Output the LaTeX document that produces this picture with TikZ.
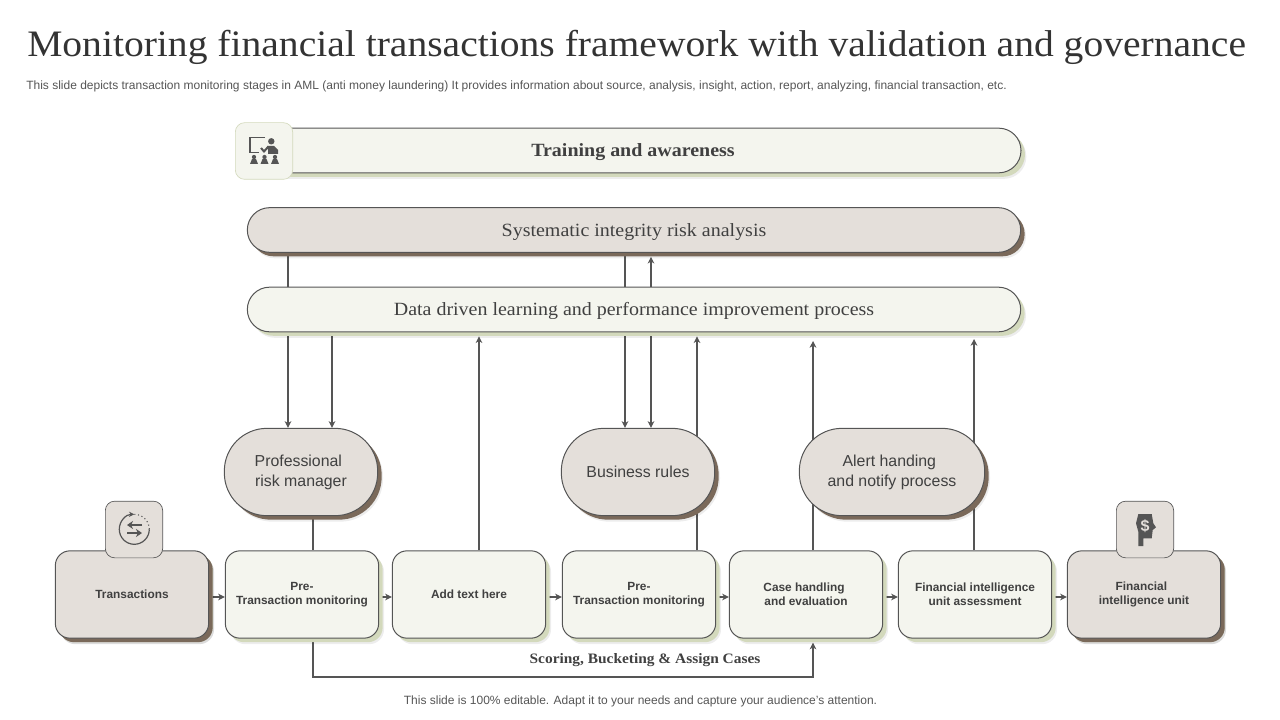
\documentclass[tikz,border=0pt]{standalone}
\usepackage{fontspec}
\setmainfont{Liberation Sans}
\newfontfamily\serifface[FakeStretch=1.07]{Liberation Serif}
\newfontfamily\titleface[FakeStretch=1.06]{Liberation Serif}
\usetikzlibrary{arrows.meta,backgrounds,calc,positioning,shadows}
\definecolor{boxgray}{HTML}{E4DFDA}
\definecolor{boxcream}{HTML}{F4F5EE}
\definecolor{shadebrown}{HTML}{7A695A}
\definecolor{shadegreen}{HTML}{D3D9BC}
\definecolor{linegray}{HTML}{555555}
\definecolor{textgray}{HTML}{404040}
\definecolor{titlegray}{HTML}{333333}
\newcommand{\fsize}[1]{\fontsize{#1}{1.2\dimexpr #1pt\relax}\selectfont}
\tikzset{
  softshade/.style={general shadow={shadow xshift=4pt,shadow yshift=-4.5pt,fill=black,opacity=.07}},
  brownshade/.style={softshade,general shadow={shadow xshift=3pt,shadow yshift=-3pt,fill=shadebrown,opacity=1}},
  greenshade/.style={softshade,general shadow={shadow xshift=3pt,shadow yshift=-3pt,fill=shadegreen,opacity=1}},
  basebox/.style={draw=linegray,line width=.75pt,inner sep=0pt,align=center,text=textgray},
  barbox/.style={basebox,minimum height=33.5pt,rounded corners=16.7pt,text height=10.5pt,text depth=1pt,font=\serifface\fsize{14}},
  blobbox/.style={basebox,brownshade,fill=boxgray,minimum width=115pt,minimum height=65.5pt,rounded corners=32pt,font=\fontsize{11.9}{15}\selectfont},
  stagebox/.style={basebox,greenshade,fill=boxcream,minimum width=115pt,minimum height=65.5pt,rounded corners=11pt,font=\bfseries\fontsize{8.9}{10.5}\selectfont},
  endbox/.style={stagebox,brownshade,fill=boxgray},
  iconbox/.style={draw=linegray,line width=.5pt,minimum width=43pt,minimum height=42.5pt,inner sep=0pt,rounded corners=7pt},
  link/.style={draw=linegray,line width=1pt},
  linkarrow/.style={link,-{Stealth[length=5pt,width=5pt,inset=1.5pt]}},
  icon/.style={fill=linegray,draw=none}
}
\begin{document}
\begin{tikzpicture}[x=0.75pt,y=-0.75pt]
    \useasboundingbox (0,0) rectangle (1280,720);

    % heading
    \node[anchor=west,inner sep=0pt,text=titlegray,font=\titleface\fsize{28}] (title) at (27,47.5) {Monitoring financial transactions framework with validation and governance};
    \node[anchor=west,inner sep=0pt,text=linegray,font=\fsize{9}] (subtitle) at (26,86) {This slide depicts transaction monitoring stages in AML (anti money laundering) It provides information about source, analysis, insight, action, report, analyzing, financial transaction, etc.};

    % long bars
    \node[barbox,greenshade,fill=boxcream,minimum width=582pt] (train) at (633,150.5) {\bfseries Training and awareness};
    \node[barbox,brownshade,fill=boxgray,minimum width=580pt] (risk) at (634,230) {Systematic integrity risk analysis};
    \node[barbox,greenshade,fill=boxcream,minimum width=580pt] (learn) at (634,309.5) {Data driven learning and performance improvement process};

    % rounded blobs
    \node[blobbox] (manager) at (301,472) {Professional\hspace*{4pt}\\ risk manager};
    \node[blobbox] (rules) at (638,472) {Business rules};
    \node[blobbox,minimum width=139pt] (alert) at (892,472) {Alert handing\hspace*{4pt}\\ and notify process};

    % stage row
    \node[endbox] (trans) at (132,594.5) {Transactions};
    \node[stagebox] (pre) at (302,594.5) {Pre-\\Transaction monitoring};
    \node[stagebox] (add) at (469,594.5) {Add text here};
    \node[stagebox] (prenext) at (639,594.5) {Pre-\\Transaction monitoring};
    \node[stagebox] (case) at (806,594.5) {Case handling\hspace*{3pt}\\and evaluation};
    \node[stagebox] (assess) at (975,594.5) {Financial intelligence\\unit assessment};
    \node[endbox] (unit) at (1144,594.5) {Financial\hspace*{4pt}\\ intelligence unit};

    % icon tiles
    \node[iconbox,draw=shadegreen,fill=boxcream] (trainicon) at (264,151) {};
    \node[iconbox,fill=boxgray] (transicon) at (134,529.5) {};
    \node[iconbox,fill=boxgray] (uniticon) at (1145,529.5) {};

    % tap positions
    \coordinate (tapa) at (288,0);
    \coordinate (tapb) at (332,0);
    \coordinate (tapc) at (479,0);
    \coordinate (tapd) at (625,0);
    \coordinate (tape) at (651,0);
    \coordinate (tapf) at (697,0);
    \coordinate (tapg) at (813,0);
    \coordinate (taph) at (974,0);
    \coordinate (tapi) at (313,0);
    \coordinate (low) at (0,677);
    \coordinate (rowline) at (0,597);

    \begin{pgfonlayer}{background}
    % between the bars
    \draw[link] (risk.south -| tapa) -- (learn.north -| tapa);
    \draw[link] (risk.south -| tapd) -- (learn.north -| tapd);
    \draw[linkarrow,shorten >=3pt] (learn.north -| tape) -- (risk.south -| tape);

    % down to the blobs
    \draw[linkarrow] (learn.south -| tapa) -- (manager.north -| tapa);
    \draw[linkarrow] (learn.south -| tapb) -- (manager.north -| tapb);
    \draw[linkarrow] (learn.south -| tapd) -- (rules.north -| tapd);
    \draw[linkarrow] (learn.south -| tape) -- (rules.north -| tape);

    % up from the stages
    \draw[linkarrow,shorten >=3pt] (add.north -| tapc) -- (learn.south -| tapc);
    \draw[linkarrow,shorten >=3pt] (prenext.north -| tapf) -- (learn.south -| tapf);
    \draw[linkarrow,shorten >=6.5pt] (case.north -| tapg) -- (learn.south -| tapg);
    \draw[linkarrow,shorten >=5pt] (assess.north -| taph) -- (learn.south -| taph);
    \draw[link] (manager.south -| tapi) -- (pre.north -| tapi);

    % along the row
    \draw[linkarrow] (trans.east |- rowline) -- (pre.west |- rowline);
    \draw[linkarrow] (pre.east |- rowline) -- (add.west |- rowline);
    \draw[linkarrow] (add.east |- rowline) -- (prenext.west |- rowline);
    \draw[linkarrow] (prenext.east |- rowline) -- (case.west |- rowline);
    \draw[linkarrow] (case.east |- rowline) -- (assess.west |- rowline);
    \draw[linkarrow] (assess.east |- rowline) -- (unit.west |- rowline);

    % return path under the row
    \draw[linkarrow,shorten >=3pt] (pre.south -| tapi) -- (low -| tapi) -- (low -| tapg) -- (case.south -| tapg);
    \end{pgfonlayer}
    \node[inner sep=0pt,text=textgray,font=\serifface\bfseries\fsize{10.8}] (scoring) at (645,660.5) {Scoring, Bucketing \& Assign Cases};

    % footer
    \node[inner sep=0pt,text=linegray,font=\fsize{9}] (footer) at (640.5,701) {This slide is 100\% editable. Adapt it to your needs and capture your audience’s attention.};

    % training icon
    \draw[linegray,line width=1pt] (265,137.5) -- (250,137.5) -- (250,152.5) -- (259,152.5);
    \draw[linegray,line width=1.5pt] (261,148) -- (264,151.5) -- (268,147);
    \fill[icon] (271.3,141.3) circle[radius=2.4pt];
    \fill[icon] (267,146) -- (274,146) -- (278,150) -- (278,154) -- (268,154) -- (268,150) -- cycle;
    \foreach \px in {254,264.5,275} {
      \fill[icon] (\px,157) circle[radius=1.6pt];
      \fill[icon] (\px-2,159) -- (\px+2,159) -- (\px+4,164) -- (\px-4,164) -- cycle;
    }

    % transactions icon
    \draw[linegray,line width=.9pt,{Stealth[length=4pt,width=4pt]}-] (134.3,514.3) arc[start angle=90,end angle=360,radius=11.25pt];
    \draw[linegray,line width=.8pt,dotted] (149.3,529.3) arc[start angle=0,end angle=90,radius=11.25pt];
    \draw[linegray,line width=2pt,-{Stealth[length=4.5pt,width=6pt]}] (142,525) -- (127,525);
    \draw[linegray,line width=2pt,-{Stealth[length=4.5pt,width=6pt]}] (127,533) -- (142,533);

    % unit icon
    \fill[icon] (1138.3,514) -- (1151.7,514) -- (1153.3,523.3) -- (1156,527.3) -- (1152.7,530) -- (1151.7,538.3) -- (1143.3,538.3) -- (1143.3,546) -- (1138.3,546) -- (1138.3,531.7) -- (1136,523.3) -- cycle;
    \node[inner sep=0pt,text=boxgray,font=\bfseries\fsize{12}] (dollar) at (1145,526) {\$};

\end{tikzpicture}
\end{document}
